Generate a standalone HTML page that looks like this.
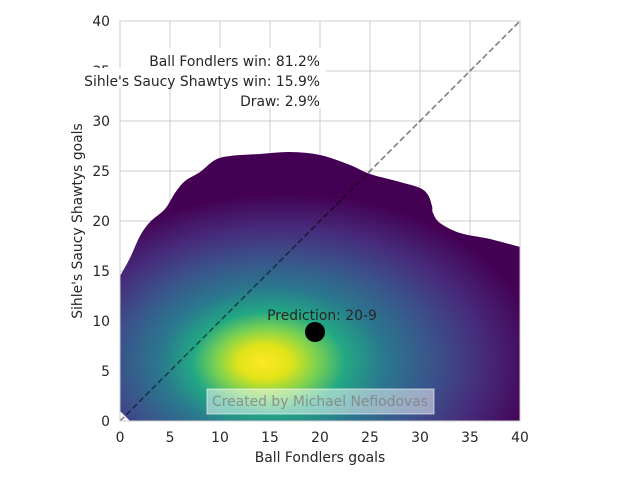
<!DOCTYPE html>
<html><head><meta charset="utf-8"><style>
body{margin:0;background:#fff;}
svg{font-family:"DejaVu Sans","Liberation Sans",sans-serif;}
</style></head><body>
<svg id="chart" width="640" height="480" viewBox="0 0 640 480">
<defs>
<radialGradient id="vir" gradientUnits="userSpaceOnUse" cx="285" cy="362" fx="262" fy="362" r="255" gradientTransform="translate(285 362) scale(1 0.66) translate(-285 -362)">
<stop offset="0" stop-color="#fde725"/>
<stop offset="0.1" stop-color="#e2e418"/>
<stop offset="0.2" stop-color="#7ad151"/>
<stop offset="0.3" stop-color="#22a884"/>
<stop offset="0.44" stop-color="#2a788e"/>
<stop offset="0.62" stop-color="#3b528b"/>
<stop offset="0.8" stop-color="#472a7a"/>
<stop offset="1" stop-color="#440154"/>
</radialGradient>
</defs>
<g id="grid"></g>
<g id="plot"></g>
<g id="axes"></g>
<text x="320" y="462" text-anchor="middle" font-size="13.9" fill="#262626">Ball Fondlers goals</text>
<text x="82" y="221" text-anchor="middle" font-size="13.9" fill="#262626" transform="rotate(-90 82 221)">Sihle's Saucy Shawtys goals</text>
</svg>
<script>
const xTicks=[0,5,10,15,20,25,30,35,40];
const yTicks=[0,5,10,15,20,25,30,35,40];
const boundaryX=[0,0,1,2,3,4.5,5.5,6.5,8,9.5,11,14,17,20,23,25,28,30,30.8,31.2,31.3,32,34,37,40];
const boundaryY=[1,14.5,16.3,18.5,19.9,21.2,22.8,24,24.9,26.1,26.5,26.7,26.9,26.6,25.6,24.7,23.9,23.3,22.6,21.5,20.8,19.8,18.8,18.2,17.4];
const predX=[19.5];const predY=[8.9];
const diagX=[0,40];const diagY=[0,40];
const ns="http://www.w3.org/2000/svg";
const X=v=>120+v*10, Y=v=>421-v*10;
function mk(t,a,p){const e=document.createElementNS(ns,t);for(const k in a)e.setAttribute(k,a[k]);p.appendChild(e);return e;}
const grid=document.getElementById('grid'),plot=document.getElementById('plot'),axes=document.getElementById('axes');
xTicks.forEach(t=>{const l=mk('line',{x1:X(t),x2:X(t),y1:Y(0),y2:Y(40),stroke:'#cccccc','stroke-width':1},grid);

const tx=mk('text',{x:X(t),y:442,'text-anchor':'middle','font-size':13.9,fill:'#262626'},axes);tx.textContent=t;
});
yTicks.forEach(t=>{const l=mk('line',{x1:X(0),x2:X(40),y1:Y(t),y2:Y(t),stroke:'#cccccc','stroke-width':1},grid);

const tx=mk('text',{x:110,y:Y(t)+5,'text-anchor':'end','font-size':13.9,fill:'#262626'},axes);tx.textContent=t;
});
const pts=boundaryX.map((x,i)=>[X(x),Y(boundaryY[i])]);
let d='M'+X(1)+','+Y(0)+' L'+pts[0].join(',')+' L'+pts[1].join(',');
for(let i=1;i<pts.length-1;i++){
 const p0=i===1?pts[1]:pts[i-1],p1=pts[i],p2=pts[i+1],p3=pts[Math.min(i+2,pts.length-1)];
 const c1=[p1[0]+(p2[0]-p0[0])/6,p1[1]+(p2[1]-p0[1])/6];
 const c2=[p2[0]-(p3[0]-p1[0])/6,p2[1]-(p3[1]-p1[1])/6];
 d+=' C'+c1.join(',')+' '+c2.join(',')+' '+p2.join(',');
}
d+=' L'+X(40)+','+Y(0)+' Z';
const dens=mk('path',{d:d,fill:'url(#vir)',stroke:'none'},plot);

const dl=mk('line',{x1:X(diagX[0]),y1:Y(diagY[0]),x2:X(diagX[1]),y2:Y(diagY[1]),stroke:'#000','stroke-opacity':0.5,'stroke-width':1.6,'stroke-dasharray':'6,3'},plot);

const sp=mk('rect',{x:X(0),y:Y(40),width:400,height:400,fill:'none',stroke:'#cccccc','stroke-width':1},axes);

const pc=mk('circle',{cx:X(predX[0]),cy:Y(predY[0]),r:10,fill:'#000'},plot);

const pl=mk('text',{x:X(predX[0])+7,y:Y(predY[0])-12,'text-anchor':'middle','font-size':13.9,fill:'#262626'},plot);
pl.textContent='Prediction: '+Math.round(predX[0])+'-'+Math.round(predY[0]);

const wb=mk('rect',{x:207,y:389,width:227,height:25,fill:'#ffffff','fill-opacity':0.5,stroke:'#ffffff','stroke-opacity':0.6},plot);

const wt=mk('text',{x:320,y:406,'text-anchor':'middle','font-size':13.9,fill:'#808080','fill-opacity':0.8},plot);
wt.textContent='Created by Michael Nefiodovas';

const lines=[["Ball Fondlers win: 81.2%",146,61],["Sihle's Saucy Shawtys win: 15.9%",80,81],["Draw: 2.9%",236,101]];
lines.forEach(a=>{const r=mk('rect',{x:a[1],y:a[2]-13,width:326-a[1],height:20,fill:'#fff'},axes);

const t=mk('text',{x:320,y:a[2]+5,'text-anchor':'end','font-size':13.9,fill:'#262626'},axes);t.textContent=a[0];
});
</script>
</body></html>
